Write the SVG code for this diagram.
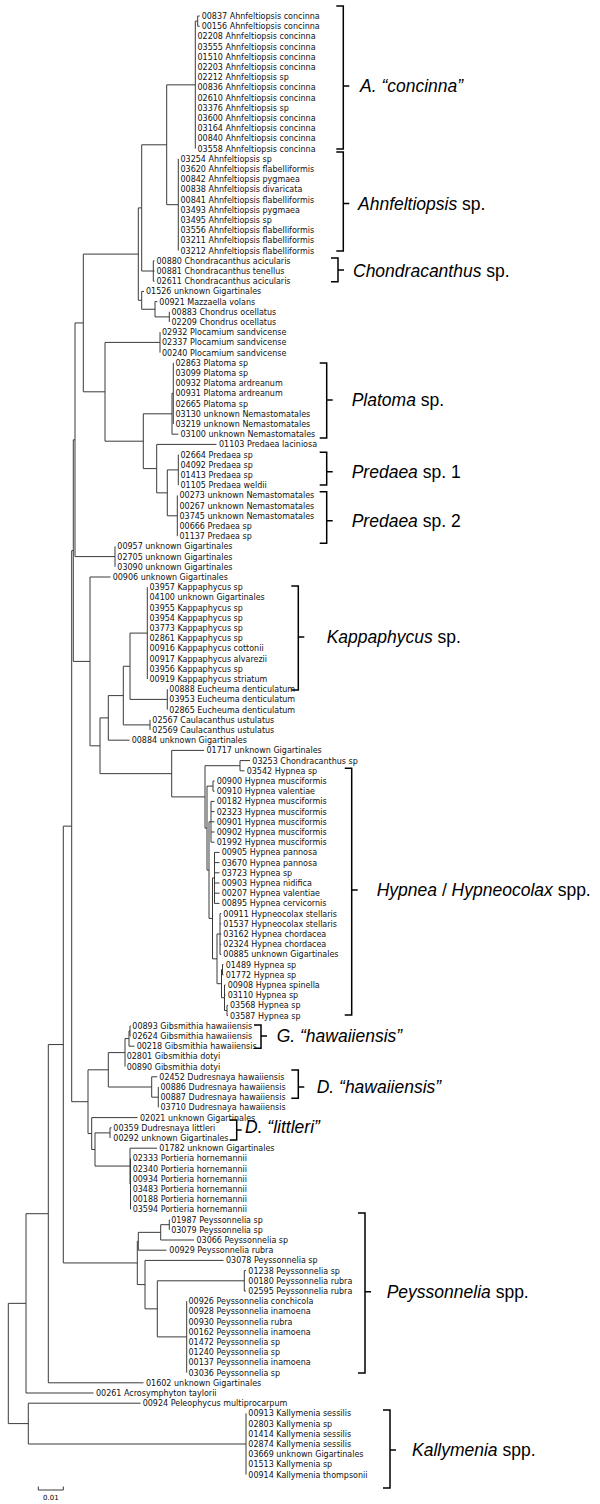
<svg xmlns="http://www.w3.org/2000/svg" width="600" height="1504" viewBox="0 0 600 1504">
<style>
.t text{font-family:"DejaVu Sans","Liberation Sans",sans-serif;font-size:8px;fill:#111}
.c{fill:none;stroke:#3a3a3a;stroke-width:1}
.b{fill:none;stroke:#000;stroke-width:1.5}
.l{font-family:"Liberation Sans",Arial,sans-serif;font-size:17.5px;fill:#000}
.i{font-style:italic}
.s{font-family:"DejaVu Sans",sans-serif;font-size:7px}
</style>
<rect width="600" height="1504" fill="#fff"/>
<g id="connectors">
<path class="c" d="M195.3 21.1H197.7M197.7 16V26.2M197.7 16H199.7M197.7 26.2H199.7
M166.7 84.85H195.3M195.3 21.1V148.6
M166.7 204.7H178.3M178.3 158.8V250.6
M141.7 144.8H166.7M166.7 84.85V204.7
M141.7 271H153.3M153.3 260.8V281.2M153.3 260.8H154.5M153.3 271H154.5M153.3 281.2H154.5
M138.3 207.9H141.7M141.7 144.8V271
M155 316.9H169.3M169.3 311.8V322
M141.7 309.25H155M155 301.6V316.9M155 301.6H157.3
M138.3 300.3H141.7M141.7 291.4V309.25M141.7 291.4H144
M83.3 254.1H138.3M138.3 207.9V300.3
M105 342.4H160M160 332.2V352.6
M172 393.4H173.3M173.3 362.8V424
M143.3 413.8H172M172 393.4V434.2M172 434.2H178.3
M167.3 469.9H178.3M178.3 454.6V485.2
M167.3 515.8H177.3M177.3 495.4V536.2
M156.7 492.85H167.3M167.3 469.9V515.8
M143.3 468.6H156.7M156.7 444.4V492.85M156.7 444.4H216.5
M105 441.2H143.3M143.3 413.8V468.6
M83.3 391.8H105M105 342.4V441.2
M75 322.95H83.3M83.3 254.1V391.8
M75 556.6H115M115 546.4V566.8
M73.3 439.8H75M75 322.95V556.6
M130 633.1H147.3M147.3 587.2V679
M130 699.4H167.3M167.3 689.2V709.6
M123.3 666.25H130M130 633.1V699.4
M123.3 724.9H150M150 719.8V730
M108.3 695.6H123.3M123.3 666.25V724.9
M100 717.9H108.3M108.3 695.6V740.2M108.3 740.2H129.5
M205 765.7H240M240 760.6V770.8M240 760.6H250M240 770.8H244.5
M207 786.1H213M213 781V791.2M213 781H214.5M213 791.2H214.5
M209 821.8H211M211 801.4V842.2M211 801.4H214.5M211 811.6H214.5M211 821.8H214.5M211 832H214.5M211 842.2H214.5
M212.5 877.9H214.5M214.5 852.4V903.4M214.5 852.4H219.5M214.5 862.6H219.5M214.5 872.8H219.5M214.5 883H219.5M214.5 893.2H219.5M214.5 903.4H219.5
M217 934H220M220 913.6V954.4M220 913.6H221.2M220 923.8H221.2M220 934H221.2M220 944.2H221.2M220 954.4H221.2
M221.5 969.7H222.5M222.5 964.6V974.8M222.5 964.6H223.5M222.5 974.8H223.5
M224.5 1010.5H227M227 1005.4V1015.6M227 1005.4H228M227 1015.6H228
M221.5 997.75H224.5M224.5 985V1010.5M224.5 985H225.5M224.5 995.2H225.5
M217 983.7H221.5M221.5 969.7V997.75
M212.5 958.85H217M217 934V983.7
M209 918.4H212.5M212.5 877.9V958.85
M207 870.1H209M209 821.8V918.4
M205 828.1H207M207 786.1V870.1
M171.7 796.9H205M205 765.7V828.1
M100 773.65H171.7M171.7 750.4V796.9M171.7 750.4H204
M90 745.8H100M100 717.9V773.65
M73.3 661.4H90M90 577V745.8M90 577H110.5
M71.7 550.6H73.3M73.3 439.8V661.4
M129 1030.9H130M130 1025.8V1036M130 1025.8H130.5M130 1036H130.5
M125 1038.55H129M129 1030.9V1046.2M129 1046.2H134.5
M108.3 1052.6H125M125 1038.55V1066.6
M151.7 1097.2H158.3M158.3 1087V1107.4
M108.3 1087H151.7M151.7 1076.8V1097.2M151.7 1076.8H157.3
M88 1069.8H108.3M108.3 1052.6V1087
M95 1132.9H110M110 1127.8V1138M110 1127.8H111.5
M130 1183.9H130.5M130.5 1158.4V1209.4
M95 1166.05H130M130 1148.2V1183.9M130 1148.2H157
M91.7 1149.5H95M95 1132.9V1166.05
M88 1133.55H91.7M91.7 1117.6V1149.5M91.7 1117.6H137.5
M71.7 1101.7H88M88 1069.8V1133.55
M63.3 826.15H71.7M71.7 550.6V1101.7
M160.7 1224.7H169.3M169.3 1219.6V1229.8
M138.3 1232.35H160.7M160.7 1224.7V1240M160.7 1240H194
M137.3 1241.3H138.3M138.3 1232.35V1250.2M138.3 1250.2H166.5
M157.3 1280.8H244.3M244.3 1270.6V1291M244.3 1270.6H246M244.3 1291H246
M157.3 1336.9H186.7M186.7 1301.2V1372.6
M145 1308.85H157.3M157.3 1280.8V1336.9
M137.3 1284.6H145M145 1260.4V1308.85M145 1260.4H223.5
M63.3 1262.95H137.3M137.3 1241.3V1284.6
M48.3 1044.55H63.3M63.3 826.15V1262.95
M26 1213.7H48.3M48.3 1044.55V1382.8M48.3 1382.8H143.5
M8.3 1303.35H26M26 1213.7V1393M26 1393H93.5
M28.3 1444H246M246 1413.4V1474.6
M8.3 1423.6H28.3M28.3 1403.2V1444M28.3 1403.2H140.5
M8.3 1303.35V1423.6"/>
</g>
<g id="leaves" class="t">
<g id="n00837"><text x="201.7" y="19">00837 Ahnfeltiopsis concinna</text></g>
<g id="n00156"><text x="201.7" y="29.2">00156 Ahnfeltiopsis concinna</text></g>
<g id="n02208"><text x="197.5" y="39.4">02208 Ahnfeltiopsis concinna</text></g>
<g id="n03555"><text x="197.5" y="49.6">03555 Ahnfeltiopsis concinna</text></g>
<g id="n01510"><text x="197.5" y="59.8">01510 Ahnfeltiopsis concinna</text></g>
<g id="n02203"><text x="197.5" y="70">02203 Ahnfeltiopsis concinna</text></g>
<g id="n02212"><text x="197.5" y="80.2">02212 Ahnfeltiopsis sp</text></g>
<g id="n00836"><text x="197.5" y="90.4">00836 Ahnfeltiopsis concinna</text></g>
<g id="n02610"><text x="197.5" y="100.6">02610 Ahnfeltiopsis concinna</text></g>
<g id="n03376"><text x="197.5" y="110.8">03376 Ahnfeltiopsis sp</text></g>
<g id="n03600"><text x="197.5" y="121">03600 Ahnfeltiopsis concinna</text></g>
<g id="n03164"><text x="197.5" y="131.2">03164 Ahnfeltiopsis concinna</text></g>
<g id="n00840"><text x="197.5" y="141.4">00840 Ahnfeltiopsis concinna</text></g>
<g id="n03558"><text x="197.5" y="151.6">03558 Ahnfeltiopsis concinna</text></g>
<g id="n03254"><text x="180.5" y="161.8">03254 Ahnfeltiopsis sp</text></g>
<g id="n03620"><text x="180.5" y="172">03620 Ahnfeltiopsis flabelliformis</text></g>
<g id="n00842"><text x="180.5" y="182.2">00842 Ahnfeltiopsis pygmaea</text></g>
<g id="n00838"><text x="180.5" y="192.4">00838 Ahnfeltiopsis divaricata</text></g>
<g id="n00841"><text x="180.5" y="202.6">00841 Ahnfeltiopsis flabelliformis</text></g>
<g id="n03493"><text x="180.5" y="212.8">03493 Ahnfeltiopsis pygmaea</text></g>
<g id="n03495"><text x="180.5" y="223">03495 Ahnfeltiopsis sp</text></g>
<g id="n03556"><text x="180.5" y="233.2">03556 Ahnfeltiopsis flabelliformis</text></g>
<g id="n03211"><text x="180.5" y="243.4">03211 Ahnfeltiopsis flabelliformis</text></g>
<g id="n03212"><text x="180.5" y="253.6">03212 Ahnfeltiopsis flabelliformis</text></g>
<g id="n00880"><text x="156.5" y="263.8">00880 Chondracanthus acicularis</text></g>
<g id="n00881"><text x="156.5" y="274">00881 Chondracanthus tenellus</text></g>
<g id="n02611"><text x="156.5" y="284.2">02611 Chondracanthus acicularis</text></g>
<g id="n01526"><text x="146" y="294.4">01526 unknown Gigartinales</text></g>
<g id="n00921"><text x="159.3" y="304.6">00921 Mazzaella volans</text></g>
<g id="n00883"><text x="171.5" y="314.8">00883 Chondrus ocellatus</text></g>
<g id="n02209"><text x="171.5" y="325">02209 Chondrus ocellatus</text></g>
<g id="n02932"><text x="162" y="335.2">02932 Plocamium sandvicense</text></g>
<g id="n02337"><text x="162" y="345.4">02337 Plocamium sandvicense</text></g>
<g id="n00240"><text x="162" y="355.6">00240 Plocamium sandvicense</text></g>
<g id="n02863"><text x="175.5" y="365.8">02863 Platoma sp</text></g>
<g id="n03099"><text x="175.5" y="376">03099 Platoma sp</text></g>
<g id="n00932"><text x="175.5" y="386.2">00932 Platoma ardreanum</text></g>
<g id="n00931"><text x="175.5" y="396.4">00931 Platoma ardreanum</text></g>
<g id="n02665"><text x="175.5" y="406.6">02665 Platoma sp</text></g>
<g id="n03130"><text x="175.5" y="416.8">03130 unknown Nemastomatales</text></g>
<g id="n03219"><text x="175.5" y="427">03219 unknown Nemastomatales</text></g>
<g id="n03100"><text x="180.5" y="437.2">03100 unknown Nemastomatales</text></g>
<g id="n01103"><text x="219" y="447.4">01103 Predaea laciniosa</text></g>
<g id="n02664"><text x="180.5" y="457.6">02664 Predaea sp</text></g>
<g id="n04092"><text x="180.5" y="467.8">04092 Predaea sp</text></g>
<g id="n01413"><text x="180.5" y="478">01413 Predaea sp</text></g>
<g id="n01105"><text x="180.5" y="488.2">01105 Predaea weldii</text></g>
<g id="n00273"><text x="179.5" y="498.4">00273 unknown Nemastomatales</text></g>
<g id="n00267"><text x="179.5" y="508.6">00267 unknown Nemastomatales</text></g>
<g id="n03745"><text x="179.5" y="518.8">03745 unknown Nemastomatales</text></g>
<g id="n00666"><text x="179.5" y="529">00666 Predaea sp</text></g>
<g id="n01137"><text x="179.5" y="539.2">01137 Predaea sp</text></g>
<g id="n00957"><text x="117.3" y="549.4">00957 unknown Gigartinales</text></g>
<g id="n02705"><text x="117.3" y="559.6">02705 unknown Gigartinales</text></g>
<g id="n03090"><text x="117.3" y="569.8">03090 unknown Gigartinales</text></g>
<g id="n00906"><text x="112.7" y="580">00906 unknown Gigartinales</text></g>
<g id="n03957"><text x="149.5" y="590.2">03957 Kappaphycus sp</text></g>
<g id="n04100"><text x="149.5" y="600.4">04100 unknown Gigartinales</text></g>
<g id="n03955"><text x="149.5" y="610.6">03955 Kappaphycus sp</text></g>
<g id="n03954"><text x="149.5" y="620.8">03954 Kappaphycus sp</text></g>
<g id="n03773"><text x="149.5" y="631">03773 Kappaphycus sp</text></g>
<g id="n02861"><text x="149.5" y="641.2">02861 Kappaphycus sp</text></g>
<g id="n00916"><text x="149.5" y="651.4">00916 Kappaphycus cottonii</text></g>
<g id="n00917"><text x="149.5" y="661.6">00917 Kappaphycus alvarezii</text></g>
<g id="n03956"><text x="149.5" y="671.8">03956 Kappaphycus sp</text></g>
<g id="n00919"><text x="149.5" y="682">00919 Kappaphycus striatum</text></g>
<g id="n00888"><text x="169.3" y="692.2">00888 Eucheuma denticulatum</text></g>
<g id="n03953"><text x="169.3" y="702.4">03953 Eucheuma denticulatum</text></g>
<g id="n02865"><text x="169.3" y="712.6">02865 Eucheuma denticulatum</text></g>
<g id="n02567"><text x="152.3" y="722.8">02567 Caulacanthus ustulatus</text></g>
<g id="n02569"><text x="152.3" y="733">02569 Caulacanthus ustulatus</text></g>
<g id="n00884"><text x="131.7" y="743.2">00884 unknown Gigartinales</text></g>
<g id="n01717"><text x="206.5" y="753.4">01717 unknown Gigartinales</text></g>
<g id="n03253"><text x="252.3" y="763.6">03253 Chondracanthus sp</text></g>
<g id="n03542"><text x="246.7" y="773.8">03542 Hypnea sp</text></g>
<g id="n00900"><text x="216.7" y="784">00900 Hypnea musciformis</text></g>
<g id="n00910"><text x="216.7" y="794.2">00910 Hypnea valentiae</text></g>
<g id="n00182"><text x="216.7" y="804.4">00182 Hypnea musciformis</text></g>
<g id="n02323"><text x="216.7" y="814.6">02323 Hypnea musciformis</text></g>
<g id="n00901"><text x="216.7" y="824.8">00901 Hypnea musciformis</text></g>
<g id="n00902"><text x="216.7" y="835">00902 Hypnea musciformis</text></g>
<g id="n01992"><text x="216.7" y="845.2">01992 Hypnea musciformis</text></g>
<g id="n00905"><text x="221.7" y="855.4">00905 Hypnea pannosa</text></g>
<g id="n03670"><text x="221.7" y="865.6">03670 Hypnea pannosa</text></g>
<g id="n03723"><text x="221.7" y="875.8">03723 Hypnea sp</text></g>
<g id="n00903"><text x="221.7" y="886">00903 Hypnea nidifica</text></g>
<g id="n00207"><text x="221.7" y="896.2">00207 Hypnea valentiae</text></g>
<g id="n00895"><text x="221.7" y="906.4">00895 Hypnea cervicornis</text></g>
<g id="n00911"><text x="223.3" y="916.6">00911 Hypneocolax stellaris</text></g>
<g id="n01537"><text x="223.3" y="926.8">01537 Hypneocolax stellaris</text></g>
<g id="n03162"><text x="223.3" y="937">03162 Hypnea chordacea</text></g>
<g id="n02324"><text x="223.3" y="947.2">02324 Hypnea chordacea</text></g>
<g id="n00885"><text x="223.3" y="957.4">00885 unknown Gigartinales</text></g>
<g id="n01489"><text x="225.7" y="967.6">01489 Hypnea sp</text></g>
<g id="n01772"><text x="225.7" y="977.8">01772 Hypnea sp</text></g>
<g id="n00908"><text x="227.7" y="988">00908 Hypnea spinella</text></g>
<g id="n03110"><text x="227.7" y="998.2">03110 Hypnea sp</text></g>
<g id="n03568"><text x="230" y="1008.4">03568 Hypnea sp</text></g>
<g id="n03587"><text x="230" y="1018.6">03587 Hypnea sp</text></g>
<g id="n00893"><text x="132.3" y="1028.8">00893 Gibsmithia hawaiiensis</text></g>
<g id="n02624"><text x="132.3" y="1039">02624 Gibsmithia hawaiiensis</text></g>
<g id="n00218"><text x="136.7" y="1049.2">00218 Gibsmithia hawaiiensis</text></g>
<g id="n02801"><text x="126.7" y="1059.4">02801 Gibsmithia dotyi</text></g>
<g id="n00890"><text x="126.7" y="1069.6">00890 Gibsmithia dotyi</text></g>
<g id="n02452"><text x="159.3" y="1079.8">02452 Dudresnaya hawaiiensis</text></g>
<g id="n00886"><text x="160.5" y="1090">00886 Dudresnaya hawaiiensis</text></g>
<g id="n00887"><text x="160.5" y="1100.2">00887 Dudresnaya hawaiiensis</text></g>
<g id="n03710"><text x="160.5" y="1110.4">03710 Dudresnaya hawaiiensis</text></g>
<g id="n02021"><text x="140" y="1120.6">02021 unknown Gigartinales</text></g>
<g id="n00359"><text x="113.3" y="1130.8">00359 Dudresnaya littleri</text></g>
<g id="n00292"><text x="113.3" y="1141">00292 unknown Gigartinales</text></g>
<g id="n01782"><text x="159.3" y="1151.2">01782 unknown Gigartinales</text></g>
<g id="n02333"><text x="132.7" y="1161.4">02333 Portieria hornemannii</text></g>
<g id="n02340"><text x="132.7" y="1171.6">02340 Portieria hornemannii</text></g>
<g id="n00934"><text x="132.7" y="1181.8">00934 Portieria hornemannii</text></g>
<g id="n03483"><text x="132.7" y="1192">03483 Portieria hornemannii</text></g>
<g id="n00188"><text x="132.7" y="1202.2">00188 Portieria hornemannii</text></g>
<g id="n03594"><text x="132.7" y="1212.4">03594 Portieria hornemannii</text></g>
<g id="n01987"><text x="171.2" y="1222.6">01987 Peyssonnelia sp</text></g>
<g id="n03079"><text x="171.2" y="1232.8">03079 Peyssonnelia sp</text></g>
<g id="n03066"><text x="196.5" y="1243">03066 Peyssonnelia sp</text></g>
<g id="n00929"><text x="169.3" y="1253.2">00929 Peyssonnelia rubra</text></g>
<g id="n03078"><text x="226" y="1263.4">03078 Peyssonnelia sp</text></g>
<g id="n01238"><text x="248.3" y="1273.6">01238 Peyssonnelia sp</text></g>
<g id="n00180"><text x="248.3" y="1283.8">00180 Peyssonnelia rubra</text></g>
<g id="n02595"><text x="248.3" y="1294">02595 Peyssonnelia rubra</text></g>
<g id="n00926"><text x="188.5" y="1304.2">00926 Peyssonnelia conchicola</text></g>
<g id="n00928"><text x="188.5" y="1314.4">00928 Peyssonnelia inamoena</text></g>
<g id="n00930"><text x="188.5" y="1324.6">00930 Peyssonnelia rubra</text></g>
<g id="n00162"><text x="188.5" y="1334.8">00162 Peyssonnelia inamoena</text></g>
<g id="n01472"><text x="188.5" y="1345">01472 Peyssonnelia sp</text></g>
<g id="n01240"><text x="188.5" y="1355.2">01240 Peyssonnelia sp</text></g>
<g id="n00137"><text x="188.5" y="1365.4">00137 Peyssonnelia inamoena</text></g>
<g id="n03036"><text x="188.5" y="1375.6">03036 Peyssonnelia sp</text></g>
<g id="n01602"><text x="146" y="1385.8">01602 unknown Gigartinales</text></g>
<g id="n00261"><text x="96" y="1396">00261 Acrosymphyton taylorii</text></g>
<g id="n00924"><text x="142.7" y="1406.2">00924 Peleophycus multiprocarpum</text></g>
<g id="n00913"><text x="248.3" y="1416.4">00913 Kallymenia sessilis</text></g>
<g id="n02803"><text x="248.3" y="1426.6">02803 Kallymenia sp</text></g>
<g id="n01414"><text x="248.3" y="1436.8">01414 Kallymenia sessilis</text></g>
<g id="n02874"><text x="248.3" y="1447">02874 Kallymenia sessilis</text></g>
<g id="n03669"><text x="248.3" y="1457.2">03669 unknown Gigartinales</text></g>
<g id="n01513"><text x="248.3" y="1467.4">01513 Kallymenia sp</text></g>
<g id="n00914"><text x="248.3" y="1477.6">00914 Kallymenia thompsonii</text></g>
</g>
<g id="clades">
<g id="c-concinna"><path class="b" d="M336.3 6H343.3V149H336.3M343.3 86H349.3"/><text class="l i" x="360" y="92">A. “concinna”</text></g>
<g id="c-ahnfeltiopsis"><path class="b" d="M336.3 152H343.3V251H336.3M343.3 203.5H349.3"/><text class="l" x="358" y="209.5"><tspan class="i">Ahnfeltiopsis</tspan> sp.</text></g>
<g id="c-chondracanthus"><path class="b" d="M331 258H338V281.7H331M338 270H344"/><text class="l" x="353" y="276.5"><tspan class="i">Chondracanthus</tspan> sp.</text></g>
<g id="c-platoma"><path class="b" d="M319.7 363H326.7V438H319.7M326.7 400H332.7"/><text class="l" x="351.7" y="406"><tspan class="i">Platoma</tspan> sp.</text></g>
<g id="c-predaea1"><path class="b" d="M319.7 452.3H326.7V485H319.7M326.7 471.7H332.7"/><text class="l" x="351.7" y="477.7"><tspan class="i">Predaea</tspan> sp. 1</text></g>
<g id="c-predaea2"><path class="b" d="M319.7 491.7H326.7V543.3H319.7M326.7 520.7H332.7"/><text class="l" x="351.7" y="526.7"><tspan class="i">Predaea</tspan> sp. 2</text></g>
<g id="c-kappaphycus"><path class="b" d="M291.3 586H298.3V690H291.3M298.3 637H304.3"/><text class="l" x="326.7" y="643"><tspan class="i">Kappaphycus</tspan> sp.</text></g>
<g id="c-hypnea"><path class="b" d="M344.7 768.3H351.7V1015H344.7M351.7 890H357.7"/><text class="l" x="376.7" y="896"><tspan class="i">Hypnea</tspan> / <tspan class="i">Hypneocolax</tspan> spp.</text></g>
<g id="c-ghawaiiensis"><path class="b" d="M254 1025H261V1048.3H254M261 1036H267"/><text class="l i" x="276.7" y="1042">G. “hawaiiensis”</text></g>
<g id="c-dhawaiiensis"><path class="b" d="M291.3 1070H298.3V1098.3H291.3M298.3 1087H304.3"/><text class="l i" x="316.7" y="1093">D. “hawaiiensis”</text></g>
<g id="c-dlittleri"><path class="b" d="M229.7 1120H236.7V1140H229.7M236.7 1130H241.7"/><text class="l i" x="245" y="1133">D. “littleri”</text></g>
<g id="c-peyssonnelia"><path class="b" d="M358 1213H365V1373H358M365 1291.7H371"/><text class="l" x="386.7" y="1297.7"><tspan class="i">Peyssonnelia</tspan> spp.</text></g>
<g id="c-kallymenia"><path class="b" d="M383 1410H390V1488H383M390 1450H396"/><text class="l" x="412" y="1456"><tspan class="i">Kallymenia</tspan> spp.</text></g>
</g>
<g id="scale">
<path class="c" d="M38.3 1490H63.3M38.3 1486.5V1490M63.3 1486.5V1490"/>
<text class="s" x="50.8" y="1500" text-anchor="middle">0.01</text>
</g>
</svg>
